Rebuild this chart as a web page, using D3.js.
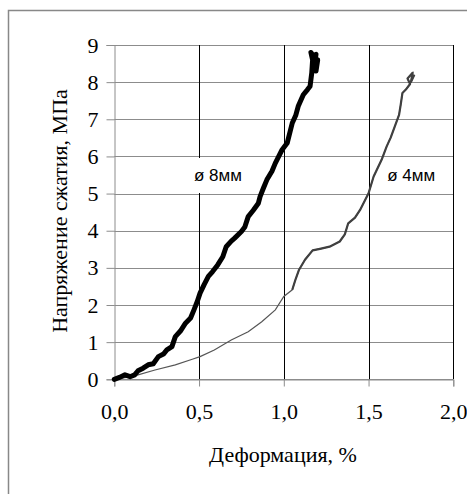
<!DOCTYPE html>
<html>
<head>
<meta charset="utf-8">
<script src="https://cdn.jsdelivr.net/npm/d3@7"></script>
<style>
  body { margin: 0; background: #fff; }
</style>
</head>
<body>
<div class="chart"></div>
<script>
// strain (%) and stress (MPa)
var strain8 = [0, 0.03, 0.063, 0.093, 0.12, 0.14, 0.17, 0.2, 0.23, 0.26, 0.29, 0.31, 0.34, 0.36, 0.39, 0.42, 0.45, 0.47, 0.49, 0.506, 0.53, 0.555, 0.58, 0.61, 0.64, 0.66, 0.69, 0.71, 0.75, 0.77, 0.79, 0.82, 0.85, 0.86, 0.88, 0.90, 0.93, 0.95, 0.97, 0.99, 1.02, 1.05, 1.07, 1.085, 1.115, 1.14, 1.155, 1.165, 1.17, 1.16, 1.175, 1.19, 1.18, 1.2, 1.19];
var stress8 = [0, 0.05, 0.12, 0.07, 0.12, 0.23, 0.3, 0.39, 0.42, 0.61, 0.68, 0.79, 0.88, 1.15, 1.3, 1.51, 1.65, 1.87, 2.1, 2.32, 2.55, 2.77, 2.9, 3.08, 3.3, 3.57, 3.72, 3.8, 3.98, 4.1, 4.38, 4.55, 4.74, 4.92, 5.15, 5.37, 5.6, 5.82, 6.0, 6.18, 6.36, 6.9, 7.1, 7.35, 7.66, 7.8, 7.89, 8.25, 8.6, 8.8, 8.7, 8.75, 8.4, 8.6, 8.3];

var strain4 = [0, 0.07, 0.14, 0.24, 0.36, 0.46, 0.506, 0.59, 0.69, 0.79, 0.87, 0.95, 1.0, 1.05, 1.07, 1.09, 1.125, 1.17, 1.22, 1.27, 1.33, 1.36, 1.38, 1.42, 1.45, 1.5, 1.53, 1.577, 1.607, 1.63, 1.655, 1.68, 1.69, 1.7, 1.72, 1.745, 1.73, 1.76, 1.75, 1.77];
var stress4 = [0, 0.05, 0.12, 0.25, 0.39, 0.54, 0.61, 0.79, 1.06, 1.28, 1.55, 1.87, 2.23, 2.41, 2.7, 2.95, 3.22, 3.47, 3.52, 3.57, 3.71, 3.9, 4.2, 4.35, 4.56, 5.01, 5.46, 5.91, 6.27, 6.5, 6.81, 7.12, 7.4, 7.71, 7.8, 7.95, 8.1, 8.25, 8.0, 8.2];

var xTicks = [0, 0.5, 1, 1.5, 2];
var yTicks = [0, 1, 2, 3, 4, 5, 6, 7, 8, 9];
var blackLines = [0.5, 1, 1.5, 2];

var seriesNames = ["ø 8мм", "ø 4мм"];
var labelAt = [[0.47, 5.5], [1.61, 5.5]];

var width = 467, height = 494;
var serif = "'Liberation Serif', 'Times New Roman', serif";

var svg = d3.select(".chart")
  .append("svg")
  .attr("width", width)
  .attr("height", height);

// outer frame (right/bottom are cut off in the picture)
svg.append("rect")
  .attr("x", 8.5).attr("y", 10.5)
  .attr("width", 520).attr("height", 520)
  .attr("fill", "none")
  .attr("stroke", "#888")
  .attr("stroke-width", 1.5);

var x = d3.scaleLinear().domain([0, 2]).range([114.3, 453.3]);
var y = d3.scaleLinear().domain([0, 9]).range([379.3, 45]);

var ru = d3.formatLocale({ decimal: ",", thousands: " ", grouping: [3], currency: ["", ""] });

// horizontal grid
svg.append("g")
  .selectAll("line")
  .data(yTicks)
  .enter()
  .append("line")
  .attr("x1", x(0)).attr("x2", x(2))
  .attr("y1", function (d) { return Math.round(y(d)) + 0.5; })
  .attr("y2", function (d) { return Math.round(y(d)) + 0.5; })
  .attr("stroke", "#8c8c8c")
  .attr("stroke-width", 1);

// vertical black lines
svg.append("g")
  .selectAll("line")
  .data(blackLines)
  .enter()
  .append("line")
  .attr("x1", function (d) { return Math.round(x(d)) + 0.5; })
  .attr("x2", function (d) { return Math.round(x(d)) + 0.5; })
  .attr("y1", y(9)).attr("y2", y(0))
  .attr("stroke", "#000")
  .attr("stroke-width", 1);

// axes
var yAxis = svg.append("g")
  .attr("transform", "translate(" + (Math.round(x(0)) + 0.5) + ",0)")
  .call(d3.axisLeft(y).tickValues(yTicks).tickSize(8).tickPadding(8).tickFormat(d3.format("d")));

var xAxis = svg.append("g")
  .attr("transform", "translate(0," + (Math.round(y(0)) + 0.5) + ")")
  .call(d3.axisBottom(x).tickValues(xTicks).tickSize(7).tickPadding(17).tickFormat(ru.format(".1f")));

[yAxis, xAxis].forEach(function (ax) {
  ax.attr("font-family", serif).attr("font-size", 22);
  ax.select(".domain").attr("stroke", "#8c8c8c");
  ax.selectAll(".tick line").attr("stroke", "#8c8c8c");
  ax.selectAll(".tick text")
    .attr("font-family", serif)
    .attr("font-size", 22)
    .attr("fill", "#000");
});

// white label box hides the line behind "ø 8мм"
var labels = svg.append("g")
  .selectAll("g")
  .data(seriesNames)
  .enter()
  .append("g")
  .attr("transform", function (d, i) {
    return "translate(" + x(labelAt[i][0]) + "," + y(labelAt[i][1]) + ")";
  });

labels.append("rect")
  .attr("x", -6).attr("y", -17)
  .attr("width", 40).attr("height", 35)
  .attr("fill", "#fff");

labels.append("text")
  .attr("x", 0).attr("y", 0)
  .attr("dy", "0.35em")
  .attr("font-family", "'Liberation Sans', Arial, sans-serif")
  .attr("font-size", 17)
  .attr("fill", "#000")
  .text(function (d) { return d; });

var line = d3.line()
  .x(function (d) { return x(d[0]); })
  .y(function (d) { return y(d[1]); });

var pts4 = strain4.map(function (v, i) { return [v, stress4[i]]; });
var pts8 = strain8.map(function (v, i) { return [v, stress8[i]]; });

svg.append("path")
  .attr("d", line(pts4))
  .attr("fill", "none")
  .attr("stroke", "#555")
  .attr("stroke-width", 1.2);

// upper part of the 4 mm trace looks heavier (noisy data)
svg.append("path")
  .attr("d", line(pts4.filter(function (d) { return d[0] >= 1.05; })))
  .attr("fill", "none")
  .attr("stroke", "#404040")
  .attr("stroke-width", 2.2)
  .attr("stroke-linejoin", "round");

svg.append("path")
  .attr("d", line(pts8))
  .attr("fill", "none")
  .attr("stroke", "#000")
  .attr("stroke-width", 5)
  .attr("stroke-linejoin", "round")
  .attr("stroke-linecap", "round");

// axis titles
svg.append("text")
  .attr("transform", "translate(67,211) rotate(-90)")
  .attr("text-anchor", "middle")
  .attr("font-family", serif)
  .attr("font-size", 22)
  .text("Напряжение сжатия, МПа");

svg.append("text")
  .attr("x", 283).attr("y", 462)
  .attr("text-anchor", "middle")
  .attr("font-family", serif)
  .attr("font-size", 22)
  .text("Деформация, %");
</script>
</body>
</html>
